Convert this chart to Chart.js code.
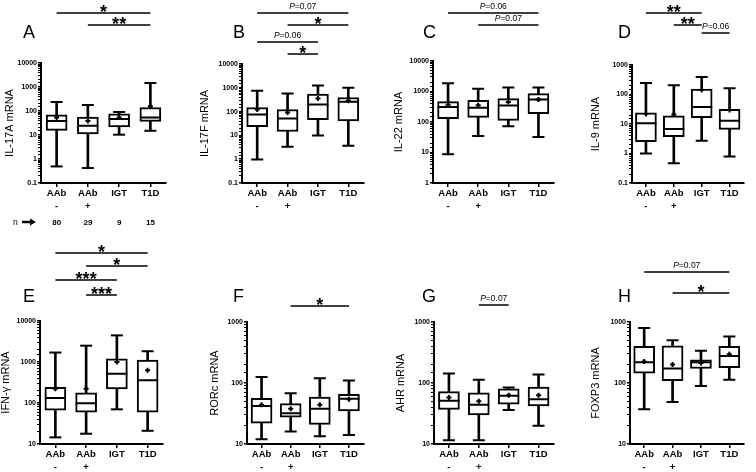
<!DOCTYPE html>
<html>
<head>
<meta charset="utf-8">
<script src="https://cdn.jsdelivr.net/npm/chart.js@4.4.1/dist/chart.umd.min.js"></script>
<style>
    html, body { margin: 0; padding: 0; background: #fff; }
    body { width: 756px; height: 472px; position: relative; overflow: hidden; }
    canvas { position: absolute; }
</style>
</head>
<body>
<canvas id="pA"></canvas><canvas id="pB"></canvas><canvas id="pC"></canvas><canvas id="pD"></canvas>
<canvas id="pE"></canvas><canvas id="pF"></canvas><canvas id="pG"></canvas><canvas id="pH"></canvas>
<script>
const FONT = "'Liberation Sans', Arial, sans-serif";

// Groups and sample sizes
const groups = [['AAb', '-'], ['AAb', '+'], 'IGT', 'T1D'];
const nCounts = [80, 29, 9, 15];

// A: IL-17A
const il17aMin = [0.49, 0.42, 10.3, 15];
const il17aQ1 = [15.6, 11, 21.5, 37];
const il17aMed = [38, 24, 46, 53];
const il17aQ3 = [70, 56, 77, 138];
const il17aMax = [237, 178, 91, 1470];
const il17aMean = [53, 38, 53, 156];

// B: IL-17F
const il17fMin = [0.96, 3.3, 9.9, 3.7];
const il17fQ1 = [23, 14.6, 46, 41];
const il17fMed = [75, 51, 200, 257];
const il17fQ3 = [149, 123, 543, 390];
const il17fMax = [757, 580, 1260, 1000];
const il17fMean = [123, 92, 355, 283];

// C: IL-22
const il22Min = [8.7, 35, 72, 32];
const il22Q1 = [129, 142, 113, 188];
const il22Med = [310, 294, 350, 550];
const il22Q3 = [465, 514, 585, 850];
const il22Max = [1850, 1240, 1340, 1340];
const il22Mean = [370, 353, 455, 550];

// D: IL-9
const il9Min = [1.0, 0.47, 2.7, 0.79];
const il9Q1 = [2.5, 3.7, 16.5, 6.6];
const il9Med = [10.6, 6.8, 38, 13];
const il9Q3 = [24, 19, 154, 31.5];
const il9Max = [245, 204, 390, 162];
const il9Mean = [22, 21, 142, 30];

// E: IFN-gamma
const ifngMin = [14.5, 17.8, 70, 21];
const ifngQ1 = [67, 60, 220, 60];
const ifngMed = [133, 98, 520, 360];
const ifngQ3 = [240, 178, 1200, 1120];
const ifngMax = [1700, 2500, 4460, 1830];
const ifngMean = [224, 224, 1000, 630];

// F: RORc
const rorcMin = [12, 16, 13.4, 14];
const rorcQ1 = [22, 27.5, 21, 35];
const rorcMed = [42, 32, 38, 55];
const rorcQ3 = [56, 46, 59, 65];
const rorcMax = [125, 68, 120, 110];
const rorcMean = [44, 38, 44, 54];

// G: AHR
const ahrMin = [11.5, 11.5, 36, 20];
const ahrQ1 = [37, 30, 45, 42];
const ahrMed = [51, 44, 62, 54];
const ahrQ3 = [72, 69, 80, 86];
const ahrMax = [143, 113, 84, 138];
const ahrMean = [58, 50, 63, 63];

// H: FOXP3
const foxp3Min = [37, 49, 89, 113];
const foxp3Q1 = [145, 109, 173, 178];
const foxp3Med = [218, 173, 218, 276];
const foxp3Q3 = [398, 408, 240, 398];
const foxp3Max = [797, 500, 337, 580];
const foxp3Mean = [225, 201, 212, 297];

// Significance brackets: [group from, group to, label]
const sigA = [[0, 3, '*'], [1, 3, '**']];
const sigB = [[0, 3, 'P=0.07'], [1, 3, '*'], [0, 2, 'P=0.06'], [1, 2, '*']];
const sigC = [[0, 3, 'P=0.06'], [1, 3, 'P=0.07']];
const sigD = [[0, 2, '**'], [1, 2, '**'], [2, 3, 'P=0.06']];
const sigE = [[0, 3, '*'], [1, 3, '*'], [0, 2, '***'], [1, 2, '***']];
const sigF = [[1, 3, '*']];
const sigG = [[1, 2, 'P=0.07']];
const sigH = [[0, 3, 'P=0.07'], [1, 3, '*']];

// Layout (page pixels): canvas [x, y, w, h], plot area [left, top, right, bottom]
const panels = [
    { id: 'pA', letter: 'A', title: 'IL-17A mRNA', range: [0.1, 10000], sig: sigA, showN: true,
      stats: [il17aMin, il17aQ1, il17aMed, il17aQ3, il17aMax, il17aMean],
      canvas: [0, 0, 186, 240], area: [41, 63, 166, 183], letterAt: [23, 38], titleOff: 10, sigY: [13, 25] },
    { id: 'pB', letter: 'B', title: 'IL-17F mRNA', range: [0.1, 10000], sig: sigB,
      stats: [il17fMin, il17fQ1, il17fMed, il17fQ3, il17fMax, il17fMean],
      canvas: [186, 0, 190, 240], area: [242, 64, 367, 183], letterAt: [233, 38], titleOff: 19, sigY: [13, 25, 42, 54] },
    { id: 'pC', letter: 'C', title: 'IL-22 mRNA', range: [1, 10000], sig: sigC,
      stats: [il22Min, il22Q1, il22Med, il22Q3, il22Max, il22Mean],
      canvas: [376, 0, 190, 240], area: [433, 61, 558, 183], letterAt: [423, 38], titleOff: 23, sigY: [13, 25] },
    { id: 'pD', letter: 'D', title: 'IL-9 mRNA', range: [0.1, 1000], sig: sigD,
      stats: [il9Min, il9Q1, il9Med, il9Q3, il9Max, il9Mean],
      canvas: [566, 0, 190, 240], area: [632, 65, 756, 183], letterAt: [618, 38], titleOff: 30, sigY: [13, 25, 33] },
    { id: 'pE', letter: 'E', title: 'IFN-\u03b3 mRNA', range: [10, 10000], sig: sigE,
      stats: [ifngMin, ifngQ1, ifngMed, ifngQ3, ifngMax, ifngMean],
      canvas: [0, 240, 186, 232], area: [40, 321, 163, 444], letterAt: [23, 302], titleOff: 6, sigY: [253, 266, 280, 295] },
    { id: 'pF', letter: 'F', title: 'RORc mRNA', range: [10, 1000], sig: sigF,
      stats: [rorcMin, rorcQ1, rorcMed, rorcQ3, rorcMax, rorcMean],
      canvas: [186, 240, 190, 232], area: [247, 322, 372, 444], letterAt: [233, 302], titleOff: 29, sigY: [306] },
    { id: 'pG', letter: 'G', title: 'AHR mRNA', range: [10, 1000], sig: sigG,
      stats: [ahrMin, ahrQ1, ahrMed, ahrQ3, ahrMax, ahrMean],
      canvas: [376, 240, 190, 232], area: [434, 322, 558, 444], letterAt: [422, 302], titleOff: 25, sigY: [305] },
    { id: 'pH', letter: 'H', title: 'FOXP3 mRNA', range: [10, 1000], sig: sigH,
      stats: [foxp3Min, foxp3Q1, foxp3Med, foxp3Q3, foxp3Max, foxp3Mean],
      canvas: [566, 240, 190, 232], area: [630, 322, 755, 444], letterAt: [618, 302], titleOff: 30, sigY: [272, 293] }
];

const isDecade = v => Math.abs(Math.log10(v) - Math.round(Math.log10(v))) < 1e-6;

// Letters, significance bars and the n row
const figurePlugin = {
    id: 'figure',
    afterDraw(chart, args, opts) {
        const ctx = chart.ctx;
        const xs = chart.scales.x;
        const ox = opts.origin[0], oy = opts.origin[1];
        ctx.save();
        ctx.fillStyle = '#000';
        ctx.strokeStyle = '#000';

        ctx.font = `18px ${FONT}`;
        ctx.textAlign = 'left';
        ctx.textBaseline = 'alphabetic';
        ctx.fillText(opts.letter, opts.letterAt[0] - ox, opts.letterAt[1] - oy);

        opts.sig.forEach(([a, b, label], k) => {
            const y = opts.sigY[k] - oy;
            const x1 = xs.getPixelForValue(a);
            const x2 = xs.getPixelForValue(b);
            ctx.lineWidth = 1.5;
            ctx.beginPath();
            ctx.moveTo(x1, y);
            ctx.lineTo(x2, y);
            ctx.stroke();
            const mid = (x1 + x2) / 2;
            if (label[0] === '*') {
                ctx.font = `bold 18px ${FONT}`;
                ctx.textAlign = 'center';
                ctx.fillText(label, mid, y + 5);
            } else {
                const rest = label.slice(1);
                ctx.font = `italic 8.5px ${FONT}`;
                const wP = ctx.measureText('P').width;
                ctx.font = `8.5px ${FONT}`;
                const wR = ctx.measureText(rest).width;
                const sx = mid - (wP + wR) / 2;
                ctx.textAlign = 'left';
                ctx.font = `italic 8.5px ${FONT}`;
                ctx.fillText('P', sx, y - 4);
                ctx.font = `8.5px ${FONT}`;
                ctx.fillText(rest, sx + wP, y - 4);
            }
        });

        if (opts.showN) {
            const y = 222 - oy;
            ctx.font = `8.5px ${FONT}`;
            ctx.textAlign = 'left';
            ctx.fillText('n', 13, y + 3);
            ctx.lineWidth = 2.5;
            ctx.beginPath();
            ctx.moveTo(22, y);
            ctx.lineTo(31, y);
            ctx.stroke();
            ctx.beginPath();
            ctx.moveTo(30, y - 3.5);
            ctx.lineTo(36, y);
            ctx.lineTo(30, y + 3.5);
            ctx.closePath();
            ctx.fill();
            ctx.font = `bold 8px ${FONT}`;
            ctx.textAlign = 'center';
            nCounts.forEach((n, i) => ctx.fillText(String(n), xs.getPixelForValue(i), y + 3));
        }
        ctx.restore();
    }
};

const pointSet = (data, style, radius, width, order) => ({
    type: 'line', data, showLine: false, order,
    pointStyle: style, pointRadius: radius, pointHoverRadius: radius,
    pointBorderColor: '#000', pointBackgroundColor: '#000', pointBorderWidth: width,
    borderColor: '#000'
});

function makeChart(p) {
    const [cx, cy, cw, ch] = p.canvas;
    const [al, at, ar, ab] = p.area;
    const el = document.getElementById(p.id);
    el.width = cw;
    el.height = ch;
    el.style.left = cx + 'px';
    el.style.top = cy + 'px';
    const [mn, q1, md, q3, mx, mean] = p.stats;

    new Chart(el, {
        type: 'bar',
        data: {
            labels: groups,
            datasets: [
                { type: 'bar', data: mn.map((v, i) => [v, mx[i]]), backgroundColor: '#000',
                  borderWidth: 0, barThickness: 2, grouped: false, order: 4 },
                { type: 'bar', data: q1.map((v, i) => [v, q3[i]]), backgroundColor: '#fff',
                  borderColor: '#000', borderWidth: 2, borderSkipped: false, barThickness: 21,
                  grouped: false, order: 3 },
                pointSet(md, 'line', 10.5, 2, 2),
                pointSet(mn, 'line', 6, 2, 2),
                pointSet(mx, 'line', 6, 2, 2),
                pointSet(mean, 'cross', 2.5, 2, 1)
            ]
        },
        options: {
            responsive: false,
            animation: false,
            devicePixelRatio: 1,
            layout: { padding: { left: 0, top: at - cy, right: cx + cw - ar, bottom: 0 } },
            plugins: {
                legend: { display: false },
                tooltip: { enabled: false },
                figure: {
                    origin: [cx, cy], letter: p.letter, letterAt: p.letterAt,
                    sig: p.sig, sigY: p.sigY, showN: !!p.showN
                }
            },
            scales: {
                x: {
                    offset: true,
                    grid: { display: true, drawOnChartArea: false, drawTicks: true, tickLength: 4,
                            offset: false, color: '#000', lineWidth: 1.5 },
                    border: { display: true, color: '#000', width: 2 },
                    ticks: { color: '#000', padding: 0, maxRotation: 0, autoSkip: false,
                             font: { family: FONT, size: 9.5, weight: 'bold', lineHeight: 1.37 } },
                    afterFit: s => { s.height = cy + ch - ab; }
                },
                y: {
                    type: 'logarithmic',
                    min: p.range[0],
                    max: p.range[1],
                    grid: { display: true, drawOnChartArea: false, drawTicks: true, tickLength: 3,
                            color: '#000', lineWidth: c => (c.tick && isDecade(c.tick.value)) ? 1.5 : 1 },
                    border: { display: true, color: '#000', width: 2 },
                    ticks: {
                        autoSkip: false, padding: 1, color: '#000',
                        font: { family: FONT, size: 7, weight: 'bold' },
                        callback: v => isDecade(v) ? (v >= 1 ? String(Math.round(v)) : String(Number(v.toPrecision(1)))) : ''
                    },
                    title: { display: true, text: p.title, color: '#000',
                             font: { family: FONT, size: 11, lineHeight: 1 },
                             padding: { top: p.titleOff - 5.5, bottom: 0 } },
                    afterFit: s => { s.width = al - cx; }
                }
            }
        },
        plugins: [figurePlugin]
    });
}

panels.forEach(makeChart);
</script>
</body>
</html>
